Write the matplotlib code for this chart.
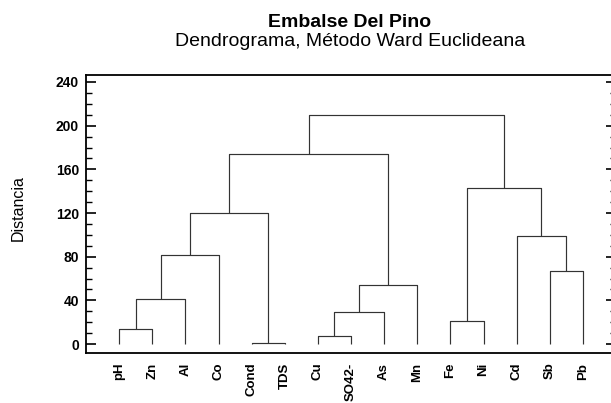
import matplotlib
matplotlib.use("Agg")
import matplotlib.pyplot as plt
from matplotlib.ticker import MultipleLocator

plt.rcParams["font.family"] = ["Liberation Sans", "DejaVu Sans"]

# leaf order along the x axis
leaves = ["pH", "Zn", "Al", "Co", "Cond", "TDS", "Cu", "SO42-", "As", "Mn",
          "Fe", "Ni", "Cd", "Sb", "Pb"]

# merge steps: node ids 0..14 are leaves, each merge creates the next id
merge_left = [4, 6, 0, 10, 16, 17, 19, 13, 20, 12, 23, 18, 25, 27]
merge_right = [5, 7, 1, 11, 8, 2, 9, 14, 3, 22, 15, 24, 21, 26]
merge_height = [0.6, 7, 14, 21.5, 29, 41, 54, 67, 82, 99, 120, 143, 174, 209.5]

fig = plt.figure(figsize=(6.11, 4.03), dpi=100)
ax = fig.add_axes([86 / 611, 1 - 353 / 403, 530 / 611, 278 / 403])

line_kw = dict(color="#333333", lw=0.85, solid_capstyle="butt")

node_x = {i: float(i + 1) for i in range(len(leaves))}
node_y = {i: 0.0 for i in range(len(leaves))}
for k, (a, b, h) in enumerate(zip(merge_left, merge_right, merge_height)):
    nid = len(leaves) + k
    xa, xb = node_x[a], node_x[b]
    ax.plot([xa, xa, xb, xb], [node_y[a], h, h, node_y[b]], **line_kw)
    node_x[nid] = (xa + xb) / 2
    node_y[nid] = h

ax.set_xlim(0, len(leaves) + 1)
ax.set_ylim(-8.2, 246.4)

ax.set_xticks(range(1, len(leaves) + 1))
ax.set_xticklabels(leaves, rotation=90, fontweight="bold", fontsize=9.5,
                   va="top", ha="center")
ax.tick_params(axis="x", length=0, pad=7)

ax.yaxis.set_major_locator(MultipleLocator(40))
ax.yaxis.set_minor_locator(MultipleLocator(10))
ax.set_yticks(range(0, 241, 40))
for lab in ax.get_yticklabels():
    lab.set_fontweight("bold")
ax.tick_params(axis="y", which="both", direction="in", right=True,
               labelsize=10, pad=5, width=1.2)
ax.tick_params(axis="y", which="major", length=7.5)
ax.tick_params(axis="y", which="minor", length=4.3, width=1.0)

for sp in ax.spines.values():
    sp.set_linewidth(1.3)
    sp.set_color("black")

fig.text(18 / 611, 1 - 208 / 403, "Distancia", rotation=90,
         ha="center", va="center", fontsize=11.5)
fig.text(350 / 611, 1 - 27 / 403, "Embalse Del Pino", ha="center",
         va="baseline", fontsize=14, fontweight="bold")
fig.text(350 / 611, 1 - 46 / 403, "Dendrograma, Método Ward Euclideana",
         ha="center", va="baseline", fontsize=14)

fig.savefig("out.png", dpi=100)
